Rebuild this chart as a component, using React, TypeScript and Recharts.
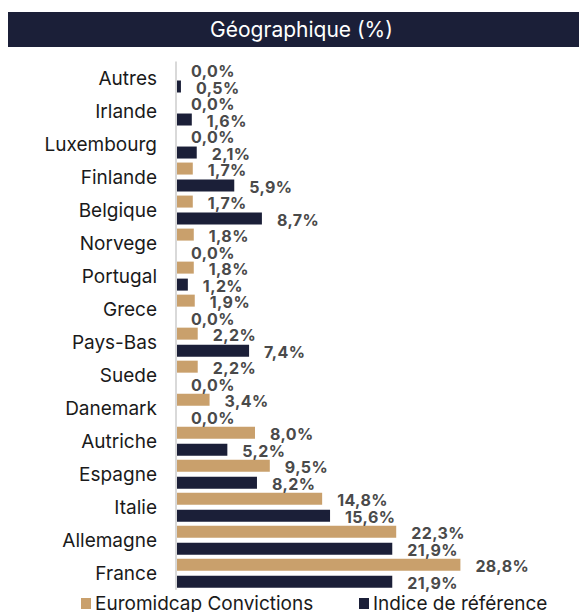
import { Bar, BarChart, LabelList, XAxis, YAxis } from 'recharts';

const countries = [
  'Autres',
  'Irlande',
  'Luxembourg',
  'Finlande',
  'Belgique',
  'Norvege',
  'Portugal',
  'Grece',
  'Pays-Bas',
  'Suede',
  'Danemark',
  'Autriche',
  'Espagne',
  'Italie',
  'Allemagne',
  'France',
];
const fundValues = [0.0, 0.0, 0.0, 1.7, 1.7, 1.8, 1.8, 1.9, 2.2, 2.2, 3.4, 8.0, 9.5, 14.8, 22.3, 28.8];
const indexValues = [0.5, 1.6, 2.1, 5.9, 8.7, 0.0, 1.2, 0.0, 7.4, 0.0, 0.0, 5.2, 8.2, 15.6, 21.9, 21.9];

const FUND = 'Euromidcap Convictions';
const INDEX = 'Indice de référence';

const TAN = '#C9A06C';
const NAVY = '#1B1F38';
const FONT = 'Inter, "Noto Sans", sans-serif';

const data = countries.map((c, i) => ({ country: c, fund: fundValues[i], index: indexValues[i] }));

const fmt = (v: number) => Number(v).toFixed(1).replace('.', ',') + '%';

const labelStyle = { fill: '#4a4a4a', fontSize: 16, fontWeight: 700, fontFamily: FONT, letterSpacing: 0.4 };

function LegendItem({ color, label, left }: { color: string; label: string; left: number }) {
  return (
    <div style={{ position: 'absolute', left, top: 0, display: 'flex', alignItems: 'center', height: 19 }}>
      <span style={{ width: 10, height: 11, background: color, marginRight: 4, display: 'inline-block' }} />
      <span>{label}</span>
    </div>
  );
}

export default function App() {
  return (
    <div style={{ position: 'absolute', left: 0, top: 0, width: 579, height: 612, background: '#fff', overflow: 'hidden' }}>
      <div
        style={{
          position: 'absolute',
          left: 8,
          top: 12,
          width: 571,
          height: 35,
          background: NAVY,
          color: '#fff',
          fontFamily: FONT,
          fontSize: 21,
          lineHeight: '35px',
          textAlign: 'center',
          textIndent: 16,
        }}
      >
        Géographique (%)
      </div>
      <div style={{ position: 'absolute', left: 0, top: 0 }}>
        <BarChart
          width={579}
          height={612}
          data={data}
          layout="vertical"
          margin={{ top: 61.5, right: 8, bottom: 22.2, left: 0 }}
          barSize={12}
          barGap={5}
        >
          <XAxis type="number" domain={[0, 40]} hide />
          <YAxis
            type="category"
            dataKey="country"
            width={176}
            tickLine={false}
            tickSize={6}
            tickMargin={13}
            axisLine={{ stroke: '#d9d9d9', strokeWidth: 2 }}
            tick={{ fill: '#1a1a1a', fontSize: 19, fontFamily: FONT }}
            interval={0}
          />
          <Bar dataKey="fund" name={FUND} fill={TAN} minPointSize={0.01} isAnimationActive={false}>
            <LabelList dataKey="fund" position="right" offset={15} dy={2} formatter={(v: number) => fmt(v)} style={labelStyle} />
          </Bar>
          <Bar dataKey="index" name={INDEX} fill={NAVY} minPointSize={0.01} isAnimationActive={false}>
            <LabelList dataKey="index" position="right" offset={15} dy={2} formatter={(v: number) => fmt(v)} style={labelStyle} />
          </Bar>
        </BarChart>
      </div>
      <div
        style={{
          position: 'absolute',
          left: 0,
          top: 594,
          width: 579,
          height: 19,
          fontFamily: FONT,
          fontSize: 19,
          lineHeight: '19px',
          color: '#1a1a1a',
          whiteSpace: 'nowrap',
        }}
      >
        <LegendItem color={TAN} label={FUND} left={81} />
        <LegendItem color={NAVY} label={INDEX} left={359} />
      </div>
    </div>
  );
}
